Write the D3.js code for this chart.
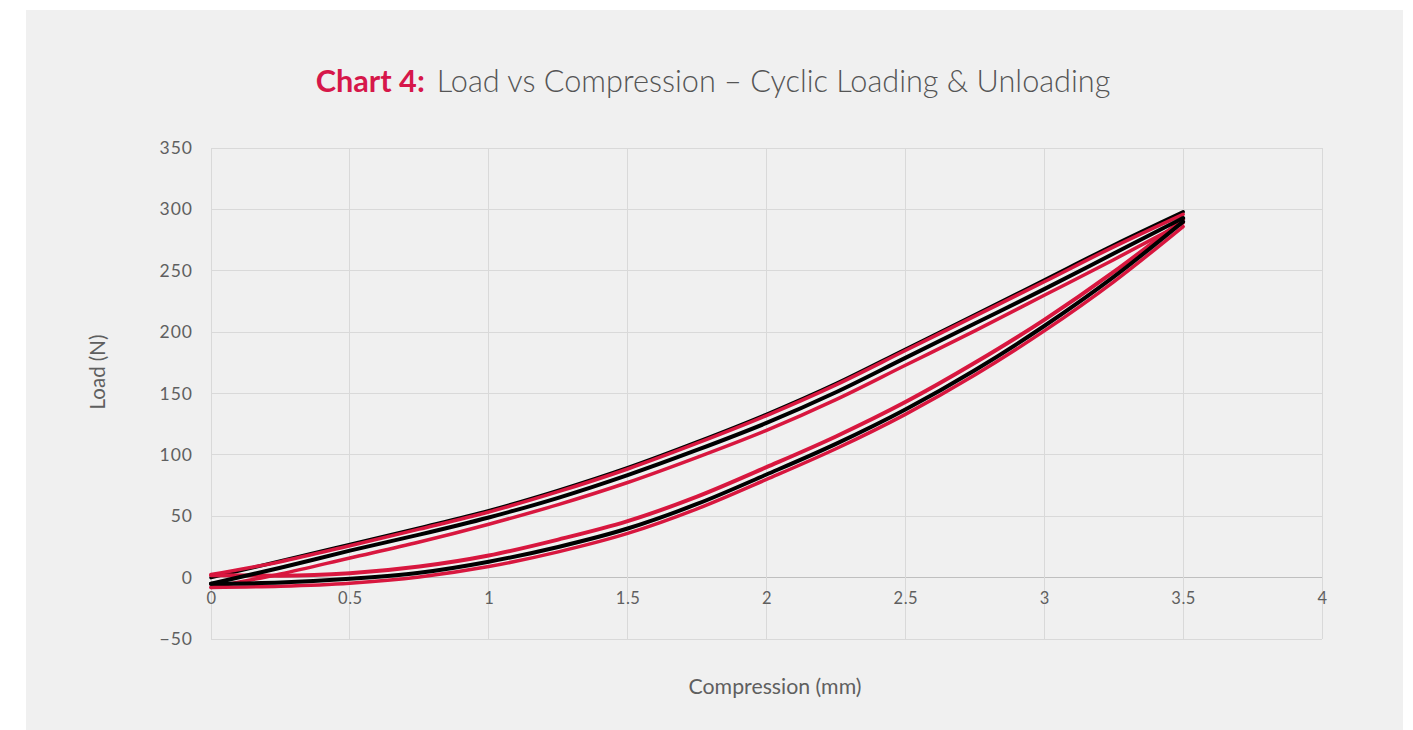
<!DOCTYPE html>
<html>
<head>
<meta charset="utf-8">
<script src="https://cdn.jsdelivr.net/npm/d3@7"></script>
<style>
  html, body { margin: 0; padding: 0; background: #ffffff; }
  svg { display: block; }
  text { font-family: Lato, "Open Sans", sans-serif; }
</style>
</head>
<body>
<svg id="chart" width="1413" height="730"></svg>
<script>
// ---------- data ----------
const compression = [0, 0.25, 0.5, 0.75, 1, 1.25, 1.5, 1.75, 2, 2.25, 2.5, 2.75, 3, 3.25, 3.5];

// loading curves (upper band)
const blackLoad1 = [0, 13.5, 27, 40.5, 54.5, 71, 89.5, 110.5, 133, 158, 186, 214, 242.5, 271, 298];
const redLoad1   = [2.5, 13, 26, 39.5, 53.5, 70, 88.5, 109.5, 132, 157, 185, 213, 241, 269.5, 296];
const blackLoad2 = [-5, 8, 22, 35, 49, 65, 83.5, 104, 126, 151, 179, 207, 235, 264, 293];
const redLoad2   = [-8, 3, 16, 29, 43.5, 59.5, 77.5, 98, 120, 145, 173, 201, 230, 259, 289];

// unloading curves (lower band)
const redUnload1   = [2, 1.5, 3.5, 9, 18, 31, 46, 66, 90, 115, 143, 175, 210, 249, 292];
const blackUnload1 = [-5, -4, -1, 4, 13, 25, 40, 60, 84, 109, 137, 169, 205, 245, 290];
const redUnload2   = [-8, -7, -4.5, 0.5, 9, 21, 36, 56, 80, 105, 133, 165, 201, 241, 286];

const xTicks = [0, 0.5, 1, 1.5, 2, 2.5, 3, 3.5, 4];
const yTicks = [-50, 0, 50, 100, 150, 200, 250, 300, 350];

const titleBold = "Chart 4:";
const titleRest = "Load vs Compression \u2013 Cyclic Loading & Unloading";
const xTitle = "Compression (mm)";
const yTitle = "Load (N)";

// ---------- layout ----------
const RED = "#d8173f";
const BLACK = "#000000";
const TXT = "#5f5f5f";
const svg = d3.select("#chart");

svg.append("rect").attr("x", 26).attr("y", 10).attr("width", 1377).attr("height", 720)
  .attr("fill", "#f0f0f0");

const x = d3.scaleLinear().domain([0, 4]).range([211, 1322]);
const y = d3.scaleLinear().domain([-50, 350]).range([639, 148]);

// gridlines
const grid = svg.append("g");
grid.selectAll("line.h").data(yTicks).join("line")
  .attr("x1", x(0)).attr("x2", x(4))
  .attr("y1", d => y(d)).attr("y2", d => y(d))
  .attr("stroke", d => d === 0 ? "#bfbfbf" : "#d9d9d9").attr("stroke-width", 1)
  .attr("shape-rendering", "crispEdges");
grid.selectAll("line.v").data(xTicks).join("line")
  .attr("x1", d => x(d)).attr("x2", d => x(d))
  .attr("y1", y(-50)).attr("y2", y(350))
  .attr("stroke", "#d9d9d9").attr("stroke-width", 1)
  .attr("shape-rendering", "crispEdges");

// axes via d3 axis generators
const xAxis = d3.axisBottom(x).tickValues(xTicks).tickFormat(d3.format("")).tickSize(0).tickPadding(15);
const gx = svg.append("g").attr("transform", `translate(0,${y(0)})`).call(xAxis);
gx.select(".domain").remove();
gx.selectAll("text").attr("fill", TXT).attr("font-size", 16.5)
  .attr("font-family", "Lato, sans-serif").attr("letter-spacing", 0.5);

const yAxis = d3.axisLeft(y).tickValues(yTicks).tickFormat(d => d < 0 ? "\u2212" + Math.abs(d) : d).tickSize(0).tickPadding(18);
const gy = svg.append("g").attr("transform", `translate(${x(0)},0)`).call(yAxis);
gy.select(".domain").remove();
gy.selectAll("text").attr("fill", TXT).attr("font-size", 17.5)
  .attr("font-family", "Lato, sans-serif").attr("letter-spacing", 1);

// axis titles (fit to reference widths)
function fit(sel, target, base) {
  const w = sel.node().getComputedTextLength();
  sel.attr("font-size", base * target / w);
}
const xt = svg.append("text").attr("x", 775).attr("y", 694).attr("text-anchor", "middle")
  .attr("fill", TXT).attr("font-size", 18).text(xTitle);
fit(xt, 173, 18);
const yt = svg.append("text").attr("transform", "translate(105,372) rotate(-90)").attr("text-anchor", "middle")
  .attr("fill", TXT).attr("font-size", 18).text(yTitle);
fit(yt, 75, 18);

// title
const title = svg.append("text").attr("y", 92).attr("font-size", 28);
title.append("tspan").attr("font-weight", 700).attr("fill", "#d6174a").text(titleBold);
title.append("tspan").attr("fill", "#555555").attr("font-weight", 300).attr("dx", 12).text(titleRest);
let tw = title.node().getComputedTextLength();
const fs = 28 * 783 / tw;
title.attr("font-size", fs);
tw = title.node().getComputedTextLength();
title.attr("x", 707 - tw / 2);

// lines
const line = d3.line().x(d => x(d[0])).y(d => y(d[1])).curve(d3.curveMonotoneX);
const series = [
  { v: blackLoad1, c: BLACK, w: 3.5 },
  { v: redLoad1, c: RED, w: 3.5 },
  { v: redLoad2, c: RED, w: 3.5 },
  { v: redUnload1, c: RED, w: 4 },
  { v: redUnload2, c: RED, w: 3.5 },
  { v: blackLoad2, c: BLACK, w: 4 },
  { v: blackUnload1, c: BLACK, w: 4 }
];
svg.append("g").selectAll("path").data(series).join("path")
  .attr("d", s => line(compression.map((c, i) => [c, s.v[i]])))
  .attr("fill", "none").attr("stroke", s => s.c).attr("stroke-width", s => s.w)
  .attr("stroke-linejoin", "round").attr("stroke-linecap", "round");
</script>
</body>
</html>
